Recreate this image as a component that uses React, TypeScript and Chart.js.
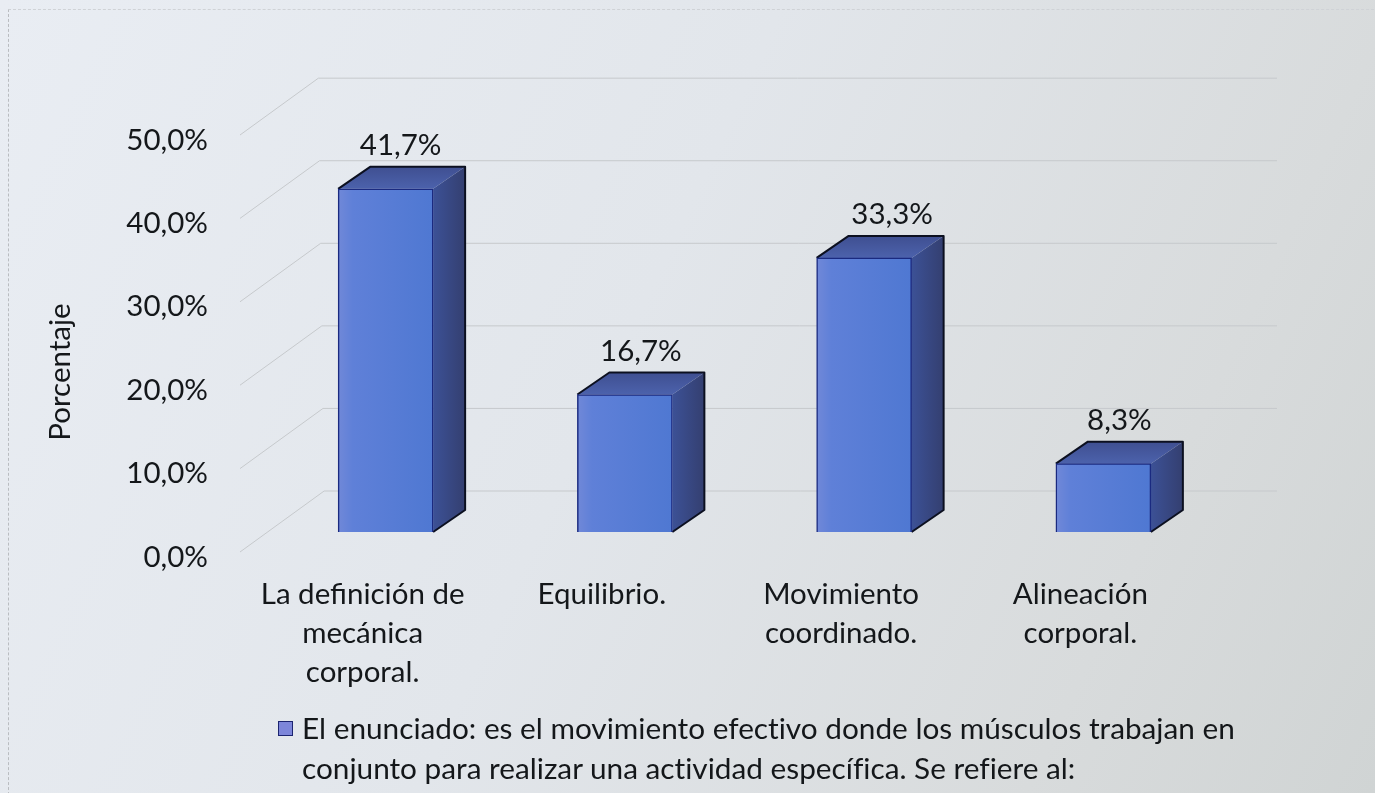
import { useEffect, useRef } from "react";
import { Chart, registerables } from "chart.js";

Chart.register(...registerables);

const categories = [["La definición de", "mecánica", "corporal."], "Equilibrio.", "Movimiento|coordinado.".split("|"), "Alineación|corporal.".split("|")];
const values = [41.7, 16.7, 33.3, 8.3];
const valueLabels = ["41,7%", "16,7%", "33,3%", "8,3%"];
const valueLabelShift = [15, 16, 28, 16];
const yTicks = [0, 10, 20, 30, 40, 50];
const yTitle = "Porcentaje";
const legendLines = [
  "El enunciado: es el movimiento efectivo donde los músculos trabajan en",
  "conjunto para realizar una actividad específica. Se refiere al:",
];

const FONT = "Lato, Carlito, sans-serif";
const FS = 29.5;
const INK = "#14171a";
const DX = 32;
const DY = 22;

const decor = {
  id: "decor",
  beforeDatasetsDraw(chart: any) {
    const { ctx, scales } = chart;
    ctx.save();
    ctx.strokeStyle = "#c6c9cc";
    ctx.lineWidth = 1;
    for (const t of yTicks) {
      const p = scales.y.getPixelForValue(t);
      const fy = p - 5;
      const by = 491 + (p - 557) * 0.99;
      const fx = 240;
      const bx = 240 + (fy - by) * (80 / 58);
      ctx.beginPath();
      ctx.moveTo(fx, fy);
      ctx.lineTo(bx, by);
      ctx.lineTo(1277, by);
      ctx.stroke();
    }
    // depth faces of each bar
    const meta = chart.getDatasetMeta(0);
    meta.data.forEach((bar: any) => {
      const half = bar.width / 2;
      const l = bar.x - half;
      const r = bar.x + half;
      const t = bar.y;
      const b = bar.base;
      const top = ctx.createLinearGradient(l, t - DY, l, t);
      top.addColorStop(0, "#3f4f91");
      top.addColorStop(1, "#4c62ac");
      ctx.fillStyle = top;
      ctx.beginPath();
      ctx.moveTo(l, t);
      ctx.lineTo(l + DX, t - DY);
      ctx.lineTo(r + DX, t - DY);
      ctx.lineTo(r, t);
      ctx.closePath();
      ctx.fill();
      const side = ctx.createLinearGradient(r, t, r + DX, t);
      side.addColorStop(0, "#3c5196");
      side.addColorStop(1, "#343f70");
      ctx.fillStyle = side;
      ctx.beginPath();
      ctx.moveTo(r, t);
      ctx.lineTo(r + DX, t - DY);
      ctx.lineTo(r + DX, b - DY);
      ctx.lineTo(r, b);
      ctx.closePath();
      ctx.fill();
      ctx.strokeStyle = "#0c1020";
      ctx.lineWidth = 2;
      ctx.lineJoin = "round";
      ctx.beginPath();
      ctx.moveTo(l, t);
      ctx.lineTo(l + DX, t - DY);
      ctx.lineTo(r + DX, t - DY);
      ctx.lineTo(r + DX, b - DY);
      ctx.lineTo(r, b);
      ctx.stroke();
    });
    ctx.restore();
  },
  afterDatasetsDraw(chart: any) {
    const { ctx } = chart;
    ctx.save();
    ctx.fillStyle = INK;
    ctx.font = `${FS}px ${FONT}`;
    ctx.textAlign = "center";
    ctx.textBaseline = "middle";
    chart.getDatasetMeta(0).data.forEach((bar: any, i: number) => {
      ctx.fillText(valueLabels[i], bar.x + valueLabelShift[i], bar.y - 43);
    });
    ctx.translate(60, 372);
    ctx.rotate(-Math.PI / 2);
    ctx.fillText(yTitle, 0, 0);
    ctx.restore();
  },
};

export default function App() {
  const ref = useRef<HTMLCanvasElement>(null);
  useEffect(() => {
    const c2d: any = ref.current!.getContext("2d");
    c2d.letterSpacing = "0.05px";
    const chart = new Chart(ref.current!, {
      type: "bar",
      data: {
        labels: categories as any,
        datasets: [
          {
            data: values,
            yAxisID: "bars",
            barThickness: 95,
            backgroundColor(c: any) {
              const x = c.chart.scales.x?.getPixelForValue(c.dataIndex);
              if (x === undefined || Number.isNaN(x)) return "#5b7fd6";
              const g = c.chart.ctx.createLinearGradient(x - 47, 0, x + 47, 0);
              g.addColorStop(0, "#7088d8");
              g.addColorStop(0.15, "#5f80d8");
              g.addColorStop(1, "#4f78d2");
              return g;
            },
            borderColor: "#1a2a80",
            borderWidth: 1.5,
          },
        ],
      },
      options: {
        animation: false,
        responsive: false,
        plugins: { legend: { display: false }, tooltip: { enabled: false } },
        layout: { padding: { left: 0, top: 140, right: 152, bottom: 0 } },
        scales: {
          x: {
            grid: { display: false },
            border: { display: false },
            afterFit(s: any) { s.height = 236; },
            ticks: {
              color: INK,
              font: { family: FONT, size: FS, lineHeight: 39 / FS },
              maxRotation: 0,
              autoSkip: false,
              labelOffset: -23,
              padding: 10,
            },
          },
          y: {
            min: 0,
            max: 50,
            position: "left",
            grid: { display: false },
            border: { display: false },
            afterBuildTicks(s: any) { s.ticks = yTicks.map((value) => ({ value })); },
            afterFit(s: any) { s.width = 266; },
            ticks: {
              color: INK,
              padding: 50,
              font: { family: FONT, size: FS },
              callback: (v: any) => `${Number(v).toFixed(1).replace(".", ",")}%`,
            },
          },
          bars: {
            display: false,
            min: -3.04,
            max: 47.63,
            position: "left",
          },
        },
      },
      plugins: [decor],
    } as any);
    return () => chart.destroy();
  }, []);

  return (
    <div
      style={{
        position: "fixed",
        inset: 0,
        width: 1375,
        height: 793,
        overflow: "hidden",
        background:
          "linear-gradient(115deg, #e9edf3 0%, #e2e6eb 45%, #d8dbdc 80%, #d0d4d4 100%)",
      }}
    >
      <div
        style={{
          position: "absolute",
          left: 8,
          top: 9,
          width: 1400,
          height: 800,
          borderLeft: "1px dashed #b9bcc0",
          borderTop: "1px dashed #cfd2d6",
        }}
      />
      <canvas ref={ref} width={1375} height={793} style={{ position: "absolute", left: 0, top: 0 }} />
      <div
        style={{
          position: "absolute",
          left: 278,
          top: 721,
          width: 13,
          height: 13,
          background: "#7d86da",
          border: "1.5px solid #1c2470",
        }}
      />
      <div
        style={{
          position: "absolute",
          left: 302,
          top: 708,
          font: `29.75px/40px ${FONT}`,
          fontVariantLigatures: "none",
          color: INK,
          whiteSpace: "nowrap",
        }}
      >
        {legendLines.map((l) => (
          <div key={l}>{l}</div>
        ))}
      </div>
    </div>
  );
}
